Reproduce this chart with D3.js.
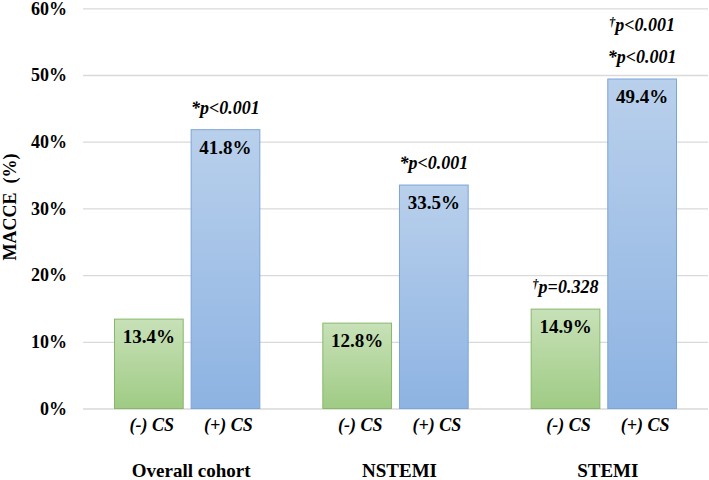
<!DOCTYPE html>
<html>
<head>
<meta charset="utf-8">
<script src="https://cdn.jsdelivr.net/npm/d3@7"></script>
<style>
html,body{margin:0;padding:0;background:#fff;}
svg{display:block;}
</style>
</head>
<body>
<svg id="chart" width="709" height="480"></svg>
<script>
const groups = ["Overall cohort", "NSTEMI", "STEMI"];
const subgroups = ["(-) CS", "(+) CS"];
const valuesNeg = [13.4, 12.8, 14.9];
const valuesPos = [41.8, 33.5, 49.4];
const pNeg = [[], [], ["\u2020p=0.328"]];
const pPos = [["*p<0.001"], ["*p<0.001"], ["*p<0.001", "\u2020p<0.001"]];
const yTicks = [0, 10, 20, 30, 40, 50, 60];
const yLabel = "MACCE\u00a0\u00a0(%)";

const FONT = "'Liberation Serif', 'Tinos', 'Times New Roman', serif";
const svg = d3.select("#chart");
const mLeft = 83, mRight = 708, mTop = 8.3, mBottom = 408.5;

const defs = svg.append("defs");
function grad(id, c1, c2) {
  const g = defs.append("linearGradient").attr("id", id)
    .attr("x1", 0).attr("y1", 0).attr("x2", 0).attr("y2", 1);
  g.append("stop").attr("offset", "0%").attr("stop-color", c1);
  g.append("stop").attr("offset", "100%").attr("stop-color", c2);
}
grad("gGreen", "#c8e1b8", "#9fcb84");
grad("gBlue", "#b9d0ec", "#8db3e2");

const x0 = d3.scaleBand().domain(groups).range([mLeft, mRight]).paddingInner(0).paddingOuter(0);
const x1 = d3.scaleBand().domain(subgroups).range([31.5, x0.bandwidth() - 31.5]).paddingInner(15 / 145).paddingOuter(0);
const y = d3.scaleLinear().domain([0, 60]).range([mBottom, mTop]);

function txt(sel) { return sel.style("font-family", FONT).style("font-weight", "bold").attr("fill", "#000"); }

// grid + tick labels
const yAxis = d3.axisLeft(y).tickValues(yTicks).tickFormat(d => d + "%").tickSize(-(mRight - mLeft)).tickPadding(16);
const ga = svg.append("g").attr("transform", `translate(${mLeft},0)`).call(yAxis);
ga.select(".domain").remove();
ga.selectAll(".tick line").attr("stroke", "#d9d9d9").attr("stroke-width", 1.3);
txt(ga.selectAll(".tick text")).style("font-size", "18px");

// y label
txt(svg.append("text"))
  .attr("transform", "translate(16,207) rotate(-90)")
  .attr("text-anchor", "middle")
  .style("font-size", "18px")
  .text(yLabel);

const data = groups.map((g, i) => ({
  group: g,
  bars: [
    {sub: subgroups[0], v: valuesNeg[i], p: pNeg[i], fill: "url(#gGreen)", stroke: "#86b86a"},
    {sub: subgroups[1], v: valuesPos[i], p: pPos[i], fill: "url(#gBlue)", stroke: "#7ba4d8"}
  ]
}));

const gg = svg.selectAll("g.grp").data(data).join("g").attr("class", "grp")
  .attr("transform", d => `translate(${x0(d.group)},0)`);

const bar = gg.selectAll("g.bar").data(d => d.bars).join("g").attr("class", "bar");

bar.append("rect")
  .attr("x", d => x1(d.sub))
  .attr("width", x1.bandwidth())
  .attr("y", d => y(d.v))
  .attr("height", d => y(0) - y(d.v))
  .attr("fill", d => d.fill)
  .attr("stroke", d => d.stroke)
  .attr("stroke-width", 1);

txt(bar.append("text"))
  .attr("x", d => x1(d.sub) + x1.bandwidth() / 2)
  .attr("y", d => y(d.v) + 24)
  .attr("text-anchor", "middle")
  .style("font-size", "19px")
  .text(d => d.v.toFixed(1) + "%");

bar.each(function(d) {
  const cx = x1(d.sub) + x1.bandwidth() / 2;
  d.p.forEach((t, k) => {
    const el = txt(d3.select(this).append("text"))
      .attr("x", cx)
      .attr("y", y(d.v) - 16 - k * 32)
      .attr("text-anchor", "middle")
      .style("font-size", "18px")
      .style("font-style", "italic");
    const sym = t[0];
    el.append("tspan").style("font-size", sym === "\u2020" ? "12px" : "18px")
      .attr("dy", sym === "\u2020" ? -5 : 0).text(sym);
    el.append("tspan").attr("dy", sym === "\u2020" ? 5 : 0).text(t.slice(1));
  });
});

// sub labels
txt(bar.append("text"))
  .attr("x", d => x1(d.sub) + x1.bandwidth() / 2 + 3)
  .attr("y", 431)
  .attr("text-anchor", "middle")
  .style("font-size", "18px")
  .style("font-style", "italic")
  .text(d => d.sub);

// group labels
txt(gg.append("text"))
  .attr("x", x0.bandwidth() / 2 + 4)
  .attr("y", 477)
  .attr("text-anchor", "middle")
  .style("font-size", "19px")
  .text(d => d.group);
</script>
</body>
</html>
